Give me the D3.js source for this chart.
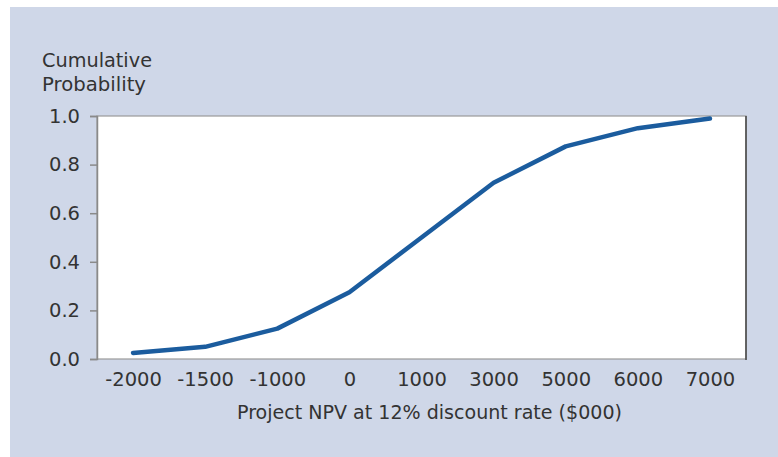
<!DOCTYPE html>
<html><head><meta charset="utf-8">
<script src="https://cdn.jsdelivr.net/npm/d3@7"></script>
<style>html,body{margin:0;padding:0;background:#fff;}svg{display:block;}</style>
</head><body>
<script>
const categories = ["-2000","-1500","-1000","0","1000","3000","5000","6000","7000"];
const probabilities = [0.025,0.05,0.125,0.275,0.5,0.725,0.875,0.95,0.99];
const yTicks = [0,0.2,0.4,0.6,0.8,1.0];
const yTitle = ["Cumulative","Probability"];
const xTitle = "Project NPV at 12% discount rate ($000)";

const W=778,H=457;
const svg=d3.select("body").append("svg").attr("width",W).attr("height",H);
svg.append("rect").attr("x",10).attr("y",7).attr("width",W-10).attr("height",H-7).attr("fill","#cfd7e8");
const L=97,R=746,T=116,B=359;
const font="'DejaVu Sans', sans-serif";
const x=d3.scalePoint().domain(categories).range([L,R]).padding(0.5);
const y=d3.scaleLinear().domain([0,1]).range([B,T]);
svg.append("rect").attr("x",L).attr("y",T).attr("width",R-L).attr("height",B-T).attr("fill","#fff").attr("stroke","#9a9a9a").attr("stroke-width",1.2);
svg.append("line").attr("x1",R).attr("x2",R).attr("y1",T).attr("y2",B+1).attr("stroke","#444").attr("stroke-width",1.5);

const ya=svg.append("g").attr("transform",`translate(${L},0)`)
 .call(d3.axisLeft(y).tickValues(yTicks).tickFormat(d3.format(".1f")).tickSize(7).tickPadding(10));
ya.select(".domain").attr("stroke","#8a8a8a").attr("stroke-width",1.5);
ya.selectAll(".tick line").attr("stroke","#8a8a8a").attr("stroke-width",1.5);
ya.selectAll("text").attr("font-family",font).attr("font-size",19.5).attr("fill","#333");

const xa=svg.append("g").attr("transform",`translate(0,${B})`)
 .call(d3.axisBottom(x).tickSize(0).tickPadding(13));
xa.select(".domain").remove();
xa.selectAll("text").attr("font-family",font).attr("font-size",19.5).attr("fill","#333");

svg.append("text").attr("x",42).attr("y",67).attr("font-family",font).attr("font-size",19).attr("fill","#333").attr("textLength",110).attr("lengthAdjust","spacingAndGlyphs").text(yTitle[0]);
svg.append("text").attr("x",42).attr("y",91).attr("font-family",font).attr("font-size",19).attr("fill","#333").attr("textLength",104).attr("lengthAdjust","spacingAndGlyphs").text(yTitle[1]);
svg.append("text").attr("x",237).attr("y",419).attr("font-family",font).attr("font-size",19).attr("fill","#333").attr("textLength",385).attr("lengthAdjust","spacingAndGlyphs").text(xTitle);

const line=d3.line().x((d,i)=>x(categories[i])).y(d=>y(d));
svg.append("path").datum(probabilities).attr("d",line).attr("fill","none").attr("stroke","#1b5c9e").attr("stroke-width",4.5).attr("stroke-linecap","round").attr("stroke-linejoin","round");
</script>
</body></html>
